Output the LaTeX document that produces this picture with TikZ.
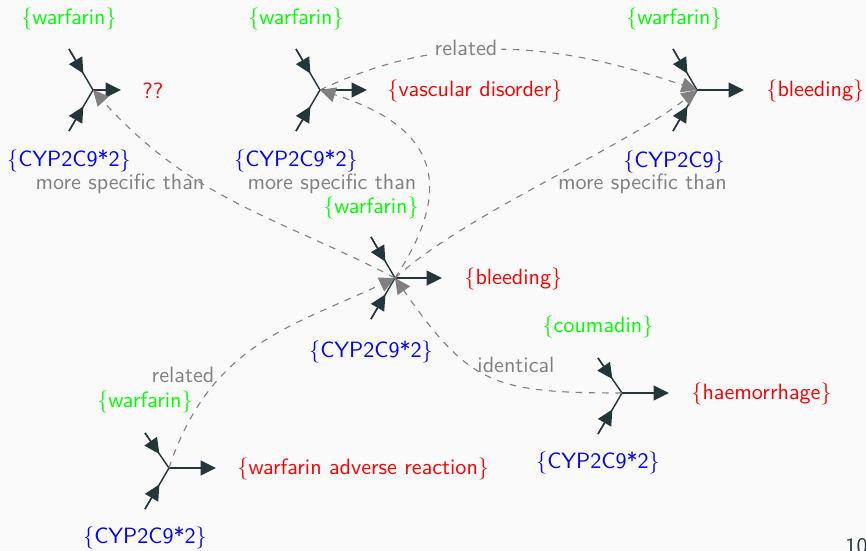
\documentclass[tikz,border=0pt]{standalone}
\usepackage{fontspec}
\usetikzlibrary{arrows.meta,calc}
\definecolor{bg}{HTML}{FAFAFA}
\definecolor{dteal}{HTML}{23373B}
\definecolor{subjgreen}{rgb}{0,1,0}
\definecolor{predred}{rgb}{1,0,0}
\definecolor{objblue}{rgb}{0,0,1}
\newcommand\gtriple[5]{% name, cx, cy, upper offset, arrow length
  \coordinate (#1) at (#2,#3);
  \coordinate (#1s) at ($(#1)+(-24,-#4)$);
  \coordinate (#1o) at ($(#1)+(-24,41)$);
  \coordinate (#1p) at ($(#1)+(#5,0)$);
  \draw[tri] (#1s) -- (#1) -- (#1o);
  \draw[tri,tip] (#1s) -- ($(#1s)!0.6!(#1)$);
  \draw[tri,tip] (#1o) -- ($(#1o)!0.6!(#1)$);
  \draw[tri,tip] (#1) -- (#1p);
}
\begin{document}
\begin{tikzpicture}[x=0.452pt,y=-0.452pt,
  font=\sffamily\fontsize{10}{12}\selectfont,
  tri/.style={draw=dteal,line width=0.65pt},
  tip/.style={-{Triangle[length=7pt,width=6.8pt]}},
  rel/.style={draw=gray,line width=0.5pt,dash pattern=on 3pt off 3pt,
    -{Triangle[length=7pt,width=6.8pt]}},
  gl/.style={text=subjgreen,inner sep=0pt},
  bl/.style={text=objblue,inner sep=0pt},
  rl/.style={text=predred,inner sep=0pt,anchor=west},
  lbl/.style={text=gray,inner sep=0pt,anchor=base}]
\fill[bg] (0,0) rectangle (866,551);
\useasboundingbox (0,0) rectangle (866,551);

% triples
\gtriple{ta}{93}{90}{41}{28}
\gtriple{tb}{320}{90}{41}{47}
\gtriple{tc}{697}{90}{41}{47}
\gtriple{td}{395}{278}{41}{47}
\gtriple{te}{622}{393}{35}{47}
\gtriple{tf}{169}{468}{35}{47}

% subject labels
\node[gl] (tag) at (69,19) {\{warfarin\}};
\node[gl] (tbg) at (296,19) {\{warfarin\}};
\node[gl] (tcg) at (674,18.5) {\{warfarin\}};
\node[gl] (tdg) at (371,208) {\{warfarin\}};
\node[gl] (teg) at (598,327) {\{coumadin\}};
\node[gl] (tfg) at (145,402) {\{warfarin\}};

% object labels
\node[bl] (tab) at (69,161) {\{CYP2C9*2\}};
\node[bl] (tbb) at (296,161) {\{CYP2C9*2\}};
\node[bl] (tcb) at (674,161.5) {\{CYP2C9\}};
\node[bl] (tdb) at (371,352) {\{CYP2C9*2\}};
\node[bl] (teb) at (598,462.5) {\{CYP2C9*2\}};
\node[bl] (tfb) at (145,538) {\{CYP2C9*2\}};

% predicate labels
\node[rl] (tar) at ($(tap)+(21,1)$) {??};
\node[rl] (tbr) at ($(tbp)+(20,1)$) {\{vascular disorder\}};
\node[rl] (tcr) at ($(tcp)+(22,1)$) {\{bleeding\}};
\node[rl] (tdr) at ($(tdp)+(22,1)$) {\{bleeding\}};
\node[rl] (ter) at ($(tep)+(22,1)$) {\{haemorrhage\}};
\node[rl] (tfr) at ($(tfp)+(21,1)$) {\{warfarin adverse reaction\}};

% relations between triples
\draw[rel] (td) .. controls (280,218) and (193,201) .. (ta);
\draw[rel] (td) .. controls (460,180) and (430,125) .. (tb);
\draw[rel] (td) .. controls (467,213) and (620,150) .. (tc);
\draw[rel] (tb) .. controls (450,28) and (565,45) .. (tc);
\draw[rel] (tf) .. controls (210,345) and (290,327) .. (td);
\draw[rel] (te) .. controls (493,393) and (469,384) .. (td);

% relation labels
\node[lbl] (la) at (120,189.5) {more specific than};
\node[lbl] (lb) at (332,189.5) {more specific than};
\node[lbl] (lc) at (642.5,189.5) {more specific than};
\node[lbl,fill=bg,inner sep=1.5pt] (ld) at (466,55) {related};
\node[lbl] (le) at (183,382) {related};
\node[lbl] (lf) at (516,372) {identical};

% page number
\node[anchor=base west,text=dteal,inner sep=0pt] (pg) at (845,553) {10};
\end{tikzpicture}
\end{document}
